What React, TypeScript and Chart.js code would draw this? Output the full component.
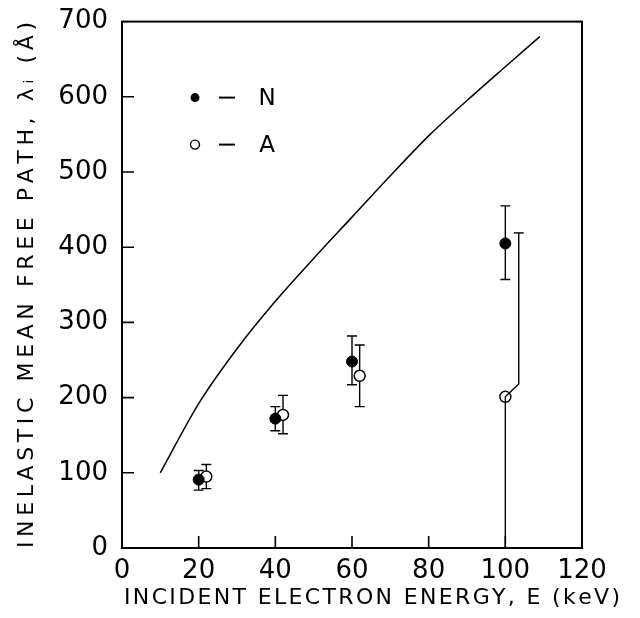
import React, { useEffect, useRef } from "react";
import { Chart, registerables } from "chart.js";
Chart.register(...registerables);

// Theoretical curve
const curveE = [10, 20, 30, 40, 50, 60, 70, 80, 90, 100, 109];
const curveL = [100, 192, 265, 328, 385, 440, 495, 548, 595, 640, 680];

// N (filled) measurements
const nE = [20, 40, 60, 100];
const nL = [91, 172, 248, 405];
const nLow = [77, 156, 217, 357];
const nHigh = [103, 188, 282, 455];

// A (open) measurements
const aE = [22, 42, 62, 100];
const aL = [95, 177, 229, 201];
const aLow = [79, 152, 188, null];
const aHigh = [111, 203, 270, null];

// Broken error bar of the A point at 100 keV
const a100BarE = [100, 100, 103.5, 103.5];
const a100BarL = [0, 201, 218, 419];

const xTicks = [20, 40, 60, 80, 100];
const yTicks = [100, 200, 300, 400, 500, 600];

const xTitle = "INCIDENT ELECTRON ENERGY, E (keV)";
const yTitle = "INELASTIC MEAN FREE PATH, λᵢ (Å)";

const FONT = "DejaVu Sans";

function spacedText(ctx: CanvasRenderingContext2D, text: string, cx: number, cy: number, target: number) {
  const chars = Array.from(text);
  const widths = chars.map((c) => ctx.measureText(c).width);
  const total = widths.reduce((a, b) => a + b, 0);
  const gap = chars.length > 1 ? (target - total) / (chars.length - 1) : 0;
  let x = cx - target / 2;
  ctx.textAlign = "left";
  chars.forEach((c, i) => {
    ctx.fillText(c, x, cy);
    x += widths[i] + gap;
  });
}

const decorPlugin = {
  id: "decor",
  beforeDatasetsDraw(chart: any) {
    const { ctx, scales } = chart;
    const xs = scales.x;
    const ys = scales.y;
    ctx.save();
    ctx.strokeStyle = "#000";
    ctx.lineWidth = 1.4;
    const bar = (e: number, lo: number, hi: number) => {
      const x = xs.getPixelForValue(e);
      const y1 = ys.getPixelForValue(lo);
      const y2 = ys.getPixelForValue(hi);
      ctx.beginPath();
      ctx.moveTo(x, y1);
      ctx.lineTo(x, y2);
      ctx.moveTo(x - 5, y1);
      ctx.lineTo(x + 5, y1);
      ctx.moveTo(x - 5, y2);
      ctx.lineTo(x + 5, y2);
      ctx.stroke();
    };
    nE.forEach((e, i) => bar(e, nLow[i], nHigh[i]));
    aE.forEach((e, i) => {
      if (aLow[i] != null && aHigh[i] != null) bar(e, aLow[i] as number, aHigh[i] as number);
    });
    const cx = xs.getPixelForValue(a100BarE[3]);
    const cy = ys.getPixelForValue(a100BarL[3]);
    ctx.beginPath();
    ctx.moveTo(cx - 5, cy);
    ctx.lineTo(cx + 5, cy);
    ctx.stroke();
    ctx.restore();
  },
  afterDraw(chart: any) {
    const { ctx, scales, chartArea } = chart;
    const xs = scales.x;
    const ys = scales.y;
    const { left, right, top, bottom } = chartArea;
    ctx.save();
    ctx.strokeStyle = "#000";
    ctx.lineWidth = 2;
    ctx.strokeRect(left, top, right - left, bottom - top);
    ctx.lineWidth = 1.6;
    ctx.beginPath();
    yTicks.forEach((v) => {
      const y = ys.getPixelForValue(v);
      ctx.moveTo(left, y);
      ctx.lineTo(left + 12, y);
    });
    xTicks.forEach((v) => {
      const x = xs.getPixelForValue(v);
      ctx.moveTo(x, bottom);
      ctx.lineTo(x, bottom - 12);
    });
    ctx.stroke();

    // legend
    ctx.font = `23px ${FONT}`;
    ctx.textBaseline = "middle";
    ctx.textAlign = "center";
    const lx = left + 73;
    const rows = [
      { y: top + 76, label: "N", filled: true },
      { y: top + 123, label: "A", filled: false },
    ];
    rows.forEach((r) => {
      ctx.beginPath();
      ctx.arc(lx, r.y, 4.5, 0, Math.PI * 2);
      if (r.filled) {
        ctx.fillStyle = "#000";
        ctx.fill();
      } else {
        ctx.fillStyle = "#fff";
        ctx.fill();
        ctx.lineWidth = 1.4;
        ctx.stroke();
      }
      ctx.lineWidth = 2;
      ctx.beginPath();
      ctx.moveTo(lx + 24, r.y);
      ctx.lineTo(lx + 40, r.y);
      ctx.stroke();
      ctx.fillStyle = "#000";
      ctx.fillText(r.label, lx + 72, r.y + 1);
    });

    // axis titles
    ctx.fillStyle = "#000";
    ctx.font = `22px ${FONT}`;
    ctx.textBaseline = "middle";
    spacedText(ctx, xTitle, 372, 598, 496);
    ctx.save();
    ctx.translate(27, 285);
    ctx.rotate(-Math.PI / 2);
    spacedText(ctx, yTitle, 0, 0, 526);
    ctx.restore();
    ctx.restore();
  },
};

export default function App() {
  const ref = useRef<HTMLCanvasElement | null>(null);
  useEffect(() => {
    if (!ref.current) return;
    const chart = new Chart(ref.current, {
      type: "scatter",
      data: {
        datasets: [
          {
            type: "line",
            data: curveE.map((e, i) => ({ x: e, y: curveL[i] })),
            borderColor: "#000",
            borderWidth: 1.5,
            pointRadius: 0,
            cubicInterpolationMode: "monotone",
            fill: false,
          } as any,
          {
            type: "line",
            data: a100BarE.map((e, i) => ({ x: e, y: a100BarL[i] })),
            borderColor: "#000",
            borderWidth: 1.4,
            pointRadius: 0,
            tension: 0,
            fill: false,
          } as any,
          {
            data: nE.map((e, i) => ({ x: e, y: nL[i] })),
            pointRadius: 5.5,
            pointBackgroundColor: "#000",
            pointBorderColor: "#000",
            pointBorderWidth: 1,
            showLine: false,
          },
          {
            data: aE.map((e, i) => ({ x: e, y: aL[i] })),
            pointRadius: 5.5,
            pointBackgroundColor: "#fff",
            pointBorderColor: "#000",
            pointBorderWidth: 1.5,
            showLine: false,
          },
        ],
      },
      options: {
        responsive: false,
        animation: false,
        events: [],
        layout: { padding: { left: 0, top: 19, right: 58, bottom: 0 } },
        plugins: { legend: { display: false }, tooltip: { enabled: false } },
        scales: {
          x: {
            type: "linear",
            min: 0,
            max: 120,
            grid: { display: false },
            border: { display: false },
            ticks: {
              stepSize: 20,
              color: "#000",
              font: { family: FONT, size: 26 },
              padding: 0,
              maxRotation: 0,
            },
            afterFit: (s: any) => {
              s.height = 70;
            },
          },
          y: {
            type: "linear",
            min: 0,
            max: 700,
            grid: { display: false },
            border: { display: false },
            ticks: {
              stepSize: 100,
              color: "#000",
              font: { family: FONT, size: 26 },
              padding: 6,
            },
            afterFit: (s: any) => {
              s.width = 122;
            },
          },
        },
      },
      plugins: [decorPlugin],
    });
    return () => chart.destroy();
  }, []);
  return (
    <div style={{ position: "fixed", left: 0, top: 0, width: 640, height: 618, background: "#fff" }}>
      <canvas ref={ref} width={640} height={618} />
    </div>
  );
}
